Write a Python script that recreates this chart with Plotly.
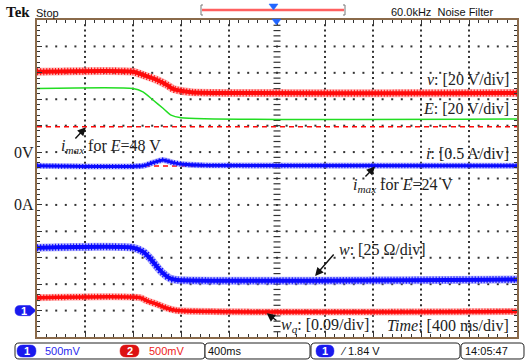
import plotly.graph_objects as go

# ---------------- data (time in ms, amplitude in screen divisions, 0 = bottom) -------------
v_t = [0, 800, 883, 1000, 1083, 1133, 1208, 1300, 4000]
v_y = [10.04, 10.04, 9.92, 9.73, 9.54, 9.39, 9.31, 9.26, 9.24]

E_t = [0, 800, 883, 967, 1050, 1117, 1200, 4000]
E_y = [9.41, 9.41, 9.28, 8.97, 8.66, 8.40, 8.30, 8.25]

i_t = [0, 883, 967, 1050, 1133, 1217, 1383, 4000]
i_y = [6.48, 6.48, 6.60, 6.70, 6.60, 6.54, 6.50, 6.48]

w_t = [0, 800, 883, 942, 1000, 1050, 1108, 1167, 4000]
w_y = [3.38, 3.38, 3.23, 2.98, 2.66, 2.41, 2.22, 2.16, 2.18]

wq_t = [0, 858, 917, 1000, 1083, 1167, 4000]
wq_y = [1.49, 1.49, 1.37, 1.24, 1.09, 1.00, 0.97]

imax48_level = 7.96
imax24_level = 6.47

x_range = [0, 4000]
y_range = [0, 12]
x_div = 400   # ms per division
n_xdiv, n_ydiv = 10, 12

# ---------------- geometry helpers (pixel -> paper) ----------------
W, H = 530, 363
ML, MR, MT, MB = 37, 13, 20, 26
PW, PH = W - ML - MR, H - MT - MB


def PX(x):
    return (x - ML) / PW


def PY(y):
    return (H - MB - y) / PH


def P(x, y):
    return f"{PX(x):.5f},{PY(y):.5f}"


def rrect(x0, x1, y0, y1, r):
    return (f"M {P(x0 + r, y0)} L {P(x1 - r, y0)} Q {P(x1, y0)} {P(x1, y0 + r)} "
            f"L {P(x1, y1 - r)} Q {P(x1, y1)} {P(x1 - r, y1)} L {P(x0 + r, y1)} "
            f"Q {P(x0, y1)} {P(x0, y1 - r)} L {P(x0, y0 + r)} Q {P(x0, y0)} {P(x0 + r, y0)} Z")


RED = "#ff0a0a"
BLUE = "#0a0aff"
GREEN = "#22dd22"
BORDER = "#8a6a4a"
SERIF = "Liberation Serif, Times New Roman, serif"
SANS = "Liberation Sans Narrow, Liberation Sans, Arial, sans-serif"

fig = go.Figure()

# ---------------- dotted graticule ----------------
gx, gy = [], []
for k in range(1, n_xdiv):
    if k == n_xdiv // 2:
        continue
    for m in range(1, n_ydiv * 5):
        gx.append(k * x_div)
        gy.append(m * 0.2)
for r in range(1, n_ydiv):
    for m in range(1, n_xdiv * 5):
        gx.append(m * x_div / 5)
        gy.append(r)
fig.add_trace(go.Scatter(x=gx, y=gy, mode="markers",
                         marker=dict(symbol="square", size=2, color="#333", line=dict(width=0)),
                         hoverinfo="skip", showlegend=False))
cy = [m * 0.2 for m in range(1, n_ydiv * 5)]
fig.add_trace(go.Scatter(x=[n_xdiv // 2 * x_div] * len(cy), y=cy, mode="markers",
                         marker=dict(symbol="line-ew", size=5, line=dict(width=1.2, color="#333")),
                         hoverinfo="skip", showlegend=False))


def band(t, y, color, halo, core_w, halo_w):
    common = dict(shape="spline", smoothing=0.6)
    fig.add_trace(go.Scatter(x=t, y=y, mode="lines", line=dict(color=halo, width=halo_w, **common),
                             hoverinfo="skip", showlegend=False))
    fig.add_trace(go.Scatter(x=t, y=y, mode="lines", line=dict(color=color, width=halo_w - 1, dash="1px,2px", **common),
                             hoverinfo="skip", showlegend=False))
    fig.add_trace(go.Scatter(x=t, y=y, mode="lines", line=dict(color=color, width=core_w, **common),
                             hoverinfo="skip", showlegend=False))


for lvl in (imax48_level, imax24_level):
    fig.add_trace(go.Scatter(x=x_range, y=[lvl, lvl], mode="lines",
                             line=dict(color=RED, width=1.5, dash="5px,4px"),
                             hoverinfo="skip", showlegend=False))

band(v_t, v_y, RED, "rgba(255,120,120,0.55)", 4, 8)
fig.add_trace(go.Scatter(x=E_t, y=E_y, mode="lines",
                         line=dict(color=GREEN, width=1.5, shape="spline", smoothing=0.6),
                         hoverinfo="skip", showlegend=False))
band(i_t, i_y, BLUE, "rgba(120,120,255,0.55)", 3, 6)
band(w_t, w_y, BLUE, "rgba(120,120,255,0.55)", 4, 8)
band(wq_t, wq_y, RED, "rgba(255,120,120,0.55)", 3.5, 7)

axis_common = dict(showticklabels=False, zeroline=False, showgrid=False,
                   showline=True, linecolor=BORDER, linewidth=1.5, mirror="allticks",
                   ticks="inside", ticklen=5, tickcolor="#333", tickwidth=1)
fig.update_xaxes(range=x_range, tick0=0, dtick=x_div,
                 minor=dict(dtick=x_div / 5, ticks="inside", ticklen=3, tickcolor="#333", showgrid=False),
                 **axis_common)
fig.update_yaxes(range=y_range, tick0=0, dtick=1,
                 minor=dict(dtick=0.2, ticks="inside", ticklen=3, tickcolor="#333", showgrid=False),
                 **axis_common)

ann = []
txt = dict(family=SERIF, size=16, color="#222")
ann += [
    dict(x=3950, y=9.73, text="<i>v</i>: [20 V/div]", xanchor="right", showarrow=False, font=txt),
    dict(x=3950, y=8.66, text="<i>E</i>: [20 V/div]", xanchor="right", showarrow=False, font=txt),
    dict(x=3950, y=6.95, text="<i>i</i>: [0.5 A/div]", xanchor="right", showarrow=False, font=txt),
    dict(x=617, y=7.20, text="<i>i<sub>max</sub></i> for <i>E</i>=48 V", showarrow=False, font=txt),
    dict(x=3046, y=5.75, text="<i>i<sub>max</sub></i> for <i>E</i>=24 V", showarrow=False, font=txt),
    dict(x=2879, y=3.33, text="<i>w</i>: [25 Ω/div]", showarrow=False, font=txt),
    dict(x=2396, y=0.43, text="<i>w<sub>q</sub></i>: [0.09/div]", showarrow=False, font=txt),
    dict(x=3950, y=0.43, text="<i>Time</i>: [400 ms/div]", xanchor="right", showarrow=False, font=txt),
    dict(xref="paper", x=0, xshift=-1, y=7, text="0V", xanchor="right", yanchor="middle", showarrow=False, font=txt),
    dict(xref="paper", x=0, xshift=-1, y=5, text="0A", xanchor="right", yanchor="middle", showarrow=False, font=txt),
]
for (tx, ty, hx, hy) in [(308, 7.46, 408, 7.94), (2725, 6.02, 2817, 6.45),
                         (2483, 3.18, 2317, 2.31), (2008, 0.58, 1914, 0.90)]:
    ann.append(dict(x=hx, y=hy, ax=tx, ay=ty, axref="x", ayref="y", text="", showarrow=True,
                    arrowhead=2, arrowsize=1.2, arrowwidth=1.4, arrowcolor="#111"))

pap = dict(xref="paper", yref="paper", yanchor="middle", showarrow=False)
ann += [
    dict(x=PX(4), y=PY(12), text="<b>Tek</b>", xanchor="left",
         font=dict(family=SERIF, size=15, color="#111"), **pap),
    dict(x=PX(34), y=PY(13), text="Stop", xanchor="left",
         font=dict(family=SANS, size=11, color="#111"), **pap),
    dict(x=PX(389), y=PY(12), text="60.0kHz  Noise Filter", xanchor="left",
         font=dict(family=SANS, size=11, color="#111"), **pap),
]
bar_y = PY(351)
for (x, s, c) in [(43, "500mV", "#2a2aee"), (147, "500mV", "#ee2222"), (206, "400ms", "#111"),
                  (338, "⁄ 1.84 V", "#111"), (463, "14:05:47", "#111")]:
    ann.append(dict(x=PX(x), y=bar_y, text=s, xanchor="left",
                    font=dict(family=SANS, size=11, color=c), **pap))
for (x, s) in [(26.5, "1"), (129.5, "2"), (325, "1")]:
    ann.append(dict(x=PX(x), y=bar_y, text=f"<b>{s}</b>", xanchor="center",
                    font=dict(family=SANS, size=11, color="white"), **pap))
ann.append(dict(x=PX(24), y=PY(310.6), text="<b>1</b>", xanchor="center",
                font=dict(family=SANS, size=11, color="white"), **pap))

spap = dict(xref="paper", yref="paper")
shapes = []
for (x0, x1) in [(15, 205), (205, 310), (311, 460), (461, 524)]:
    shapes.append(dict(type="path", path=rrect(x0, x1, 343, 359, 4), line=dict(color="#222", width=1),
                       fillcolor="white", layer="below", **spap))
for (x0, x1, c) in [(17, 36, "#1a1aee"), (120, 139, "#dd1111"), (316, 334, "#1a1aee")]:
    shapes.append(dict(type="path", path=rrect(x0, x1, 345, 357, 6), line=dict(color=c, width=0.5),
                       fillcolor=c, layer="below", **spap))
shapes.append(dict(type="path",
                   path=f"M {P(20, 305.5)} L {P(30, 305.5)} L {P(36, 310.6)} L {P(30, 315.7)} L {P(20, 315.7)} "
                        f"Q {P(15, 315.7)} {P(15, 310.6)} Q {P(15, 305.5)} {P(20, 305.5)} Z",
                   fillcolor="#1a1aee", line=dict(color="#1a1aee", width=0.5), layer="below", **spap))
shapes.append(dict(type="path", path=f"M {P(272, 19)} L {P(281, 19)} L {P(276.5, 25)} Z",
                   fillcolor="#2266ff", line=dict(color="#2266ff", width=0.5), **spap))
shapes.append(dict(type="path", path=f"M {P(202, 10)} L {P(344, 10)}", line=dict(color="#ff6060", width=2.5), **spap))
shapes.append(dict(type="path", path=f"M {P(203, 5)} L {P(201, 5)} L {P(201, 15)} L {P(203, 15)}",
                   line=dict(color="#777", width=1), **spap))
shapes.append(dict(type="path", path=f"M {P(343, 5)} L {P(345, 5)} L {P(345, 15)} L {P(343, 15)}",
                   line=dict(color="#777", width=1), **spap))
shapes.append(dict(type="path", path=f"M {P(269, 4)} L {P(278, 4)} L {P(273.5, 10)} Z",
                   fillcolor="#2266ff", line=dict(color="#2266ff", width=0.5), **spap))

fig.update_layout(width=W, height=H, margin=dict(l=ML, r=MR, t=MT, b=MB),
                  paper_bgcolor="white", plot_bgcolor="white", showlegend=False,
                  annotations=ann, shapes=shapes)

fig.write_html("out.html", config={"displayModeBar": False})
